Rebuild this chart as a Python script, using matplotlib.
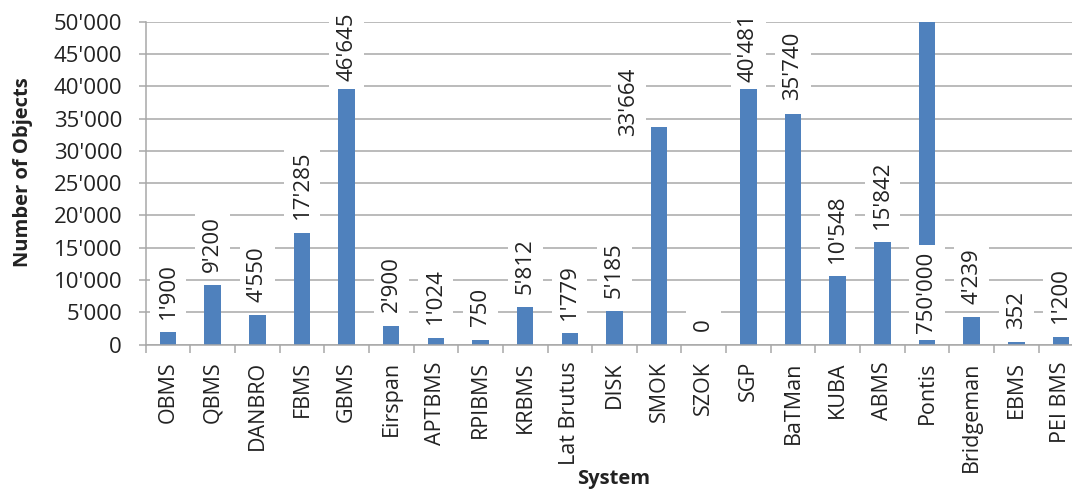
import matplotlib
matplotlib.use("Agg")
import matplotlib.pyplot as plt
from matplotlib.ticker import FuncFormatter, FixedLocator

plt.rcParams['font.family'] = ['Open Sans', 'DejaVu Sans']

systems = ["OBMS", "QBMS", "DANBRO", "FBMS", "GBMS", "Eirspan", "APTBMS",
           "RPIBMS", "KRBMS", "Lat Brutus", "DISK", "SMOK", "SZOK", "SGP",
           "BaTMan", "KUBA", "ABMS", "Pontis", "Bridgeman", "EBMS", "PEI BMS"]
objects = [1900, 9200, 4550, 17285, 46645, 2900, 1024, 750, 5812, 1779, 5185,
           33664, 0, 40481, 35740, 10548, 15842, 750000, 4239, 352, 1200]

y_max = 50000
y_step = 5000

# label nudges in points (dx, dy) where the original placement differs
nudges = {"SMOK": (-22, -16)}

BAR = "#4F81BD"
GRID = "#A8A8A8"
TXT = "#222222"
FS = 16


def fmt(v, pos=None):
    return f"{int(v):,}".replace(",", "'")


fig = plt.figure(figsize=(10.72, 4.9), dpi=100)
ax = fig.add_axes([0.1359, 0.2969, 0.8746, 0.6588])

x = list(range(len(systems)))
ax.bar(x, objects, width=0.37, color=BAR, zorder=2)

ax.set_xlim(-0.5, len(systems) - 0.5)
ax.set_ylim(0, y_max)
ax.set_yticks(range(0, y_max + 1, y_step))
ax.yaxis.set_major_formatter(FuncFormatter(fmt))
ax.grid(axis="y", color=GRID, linewidth=1.1, zorder=0)
ax.set_axisbelow(True)

ax.set_xticks(x)
ax.set_xticklabels(systems, rotation=90, fontsize=15.5, color=TXT)
ax.xaxis.set_minor_locator(FixedLocator([i - 0.5 for i in range(len(systems) + 1)]))
ax.tick_params(axis="x", which="major", length=0, pad=12)
ax.tick_params(axis="x", which="minor", length=6, color=GRID, width=1.1)
ax.tick_params(axis="y", length=5, color=GRID, width=1.1, pad=12,
               labelsize=FS, labelcolor=TXT)

for side in ["top", "right"]:
    ax.spines[side].set_visible(False)
for side in ["left", "bottom"]:
    ax.spines[side].set_color(GRID)
    ax.spines[side].set_linewidth(1.1)

box = dict(boxstyle="square,pad=0.32", fc="white", ec="none")

# first pass: value labels just above the bars
labels = []
for i, (name, v) in enumerate(zip(systems, objects)):
    dx, dy = nudges.get(name, (0, 0))
    if v > y_max:
        a = ax.annotate(fmt(v), xy=(i, 0), xytext=(dx, 8.3 + dy),
                        textcoords="offset points", rotation=90,
                        ha="center", va="bottom", fontsize=FS, color=TXT,
                        bbox=box, zorder=4)
    else:
        a = ax.annotate(fmt(v), xy=(i, v), xytext=(dx, 9.7 + dy),
                        textcoords="offset points", rotation=90,
                        ha="center", va="bottom", fontsize=FS, color=TXT,
                        bbox=box, zorder=4)
    labels.append(a)

fig.canvas.draw()
renderer = fig.canvas.get_renderer()
top_px = ax.transAxes.transform((0, 1))[1]
limit = top_px + 9

# labels that would run off the top are pushed down and cover the bar
for i, a in enumerate(labels):
    ext = a.get_window_extent(renderer)
    if ext.y1 > limit:
        a.remove()
        ax.annotate(fmt(objects[i]), xy=(i, 1), xycoords=("data", "axes fraction"),
                    xytext=(0, 6.3), textcoords="offset points", rotation=90,
                    ha="center", va="top", fontsize=FS, color=TXT,
                    bbox=box, zorder=4)

fig.text(23 / 1072, 1 - 172 / 490, "Number of Objects", rotation=90,
         ha="center", va="center", fontsize=14.5, fontweight="bold", color=TXT)
fig.text(614 / 1072, 1 - 484 / 490, "System", ha="center", va="baseline",
         fontsize=14.5, fontweight="bold", color=TXT)

fig.savefig("out.png", dpi=100)
